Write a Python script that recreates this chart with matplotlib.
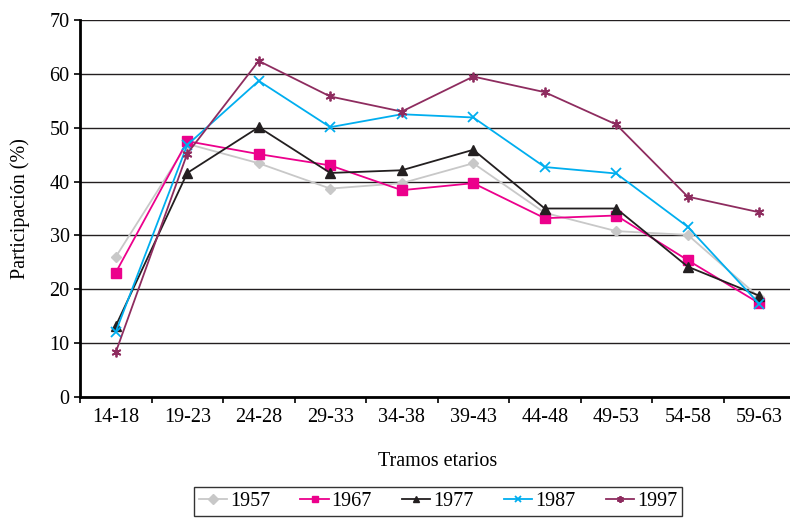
import numpy as np
import matplotlib
matplotlib.use("Agg")
from matplotlib import pyplot as plt

# Participación por tramo etario
tramos = ['14-18', '19-23', '24-28', '29-33', '34-38',
          '39-43', '44-48', '49-53', '54-58', '59-63']
p1957 = [26.0, 47.0, 43.4, 38.7, 39.7, 43.4, 34.2, 30.8, 30.1, 18.5]
p1967 = [23.1, 47.5, 45.1, 43.0, 38.4, 39.7, 33.2, 33.7, 25.4, 17.4]
p1977 = [13.2, 41.6, 50.1, 41.6, 42.1, 45.9, 35.0, 35.0, 24.2, 18.8]
p1987 = [12.1, 46.8, 58.7, 50.1, 52.5, 51.9, 42.7, 41.5, 31.6, 17.3]
p1997 = [8.3, 45.2, 62.4, 55.8, 53.0, 59.5, 56.6, 50.6, 37.2, 34.3]

plt.rcParams['font.family'] = ['Liberation Serif', 'DejaVu Serif']
fs = 14.5

fig = plt.figure(figsize=(7.9, 5.19), dpi=100)
ax = fig.add_axes([80/790, 1-397/519, 715/790, 377/519])

x = np.arange(len(tramos))
series = [
    ('1957', p1957, '#C8C8C8', 'D', 5, 1.0),
    ('1967', p1967, '#EC008C', 's', 7, 1.0),
    ('1977', p1977, '#231F20', '^', 7, 1.0),
    ('1987', p1987, '#00AEEF', 'x', 7, 1.3),
    ('1997', p1997, '#8E2C5F', (6, 2, 0), 7, 1.3),
]
for nombre, vals, color, mk, ms, mew in series:
    ax.plot(x, vals, color=color, marker=mk, markersize=ms,
            markeredgewidth=mew, linewidth=1.3, label=nombre)

ax.set_ylim(0, 70)
ax.set_xlim(-0.5, 9.5)
ax.set_yticks(range(0, 71, 10))
ax.yaxis.grid(True, color='#231F20', linewidth=1.0)
ax.set_axisbelow(True)

# ticks at category boundaries, labels centered
ax.set_xticks(np.arange(-0.5, 10, 1))
ax.set_xticklabels([])
ax.set_xticks(x, minor=True)
ax.set_xticklabels(tramos, minor=True)
ax.tick_params(axis='x', which='minor', length=0, labelsize=fs, pad=8)
ax.tick_params(axis='x', which='major', length=4, width=1.2, direction='out')
ax.tick_params(axis='y', length=4, width=1.2, labelsize=fs, direction='out')

for s in ['top', 'right']:
    ax.spines[s].set_visible(False)
ax.spines['left'].set_linewidth(2.0)
ax.spines['bottom'].set_linewidth(2.0)

ax.set_ylabel('Participación (%)', fontsize=fs, labelpad=14)
ax.set_xlabel('Tramos etarios', fontsize=fs, labelpad=18)

leg = fig.legend(loc='upper center', bbox_to_anchor=(438/790, 1-487/519),
                 ncol=5, fontsize=fs, frameon=True, fancybox=False,
                 edgecolor='black', handlelength=1.4, columnspacing=1.5,
                 borderpad=0.25, handletextpad=0.15, borderaxespad=0)
leg.get_frame().set_linewidth(1.0)
for h in leg.legend_handles:
    h.set_markersize(5)

fig.savefig('out.png', dpi=100)
